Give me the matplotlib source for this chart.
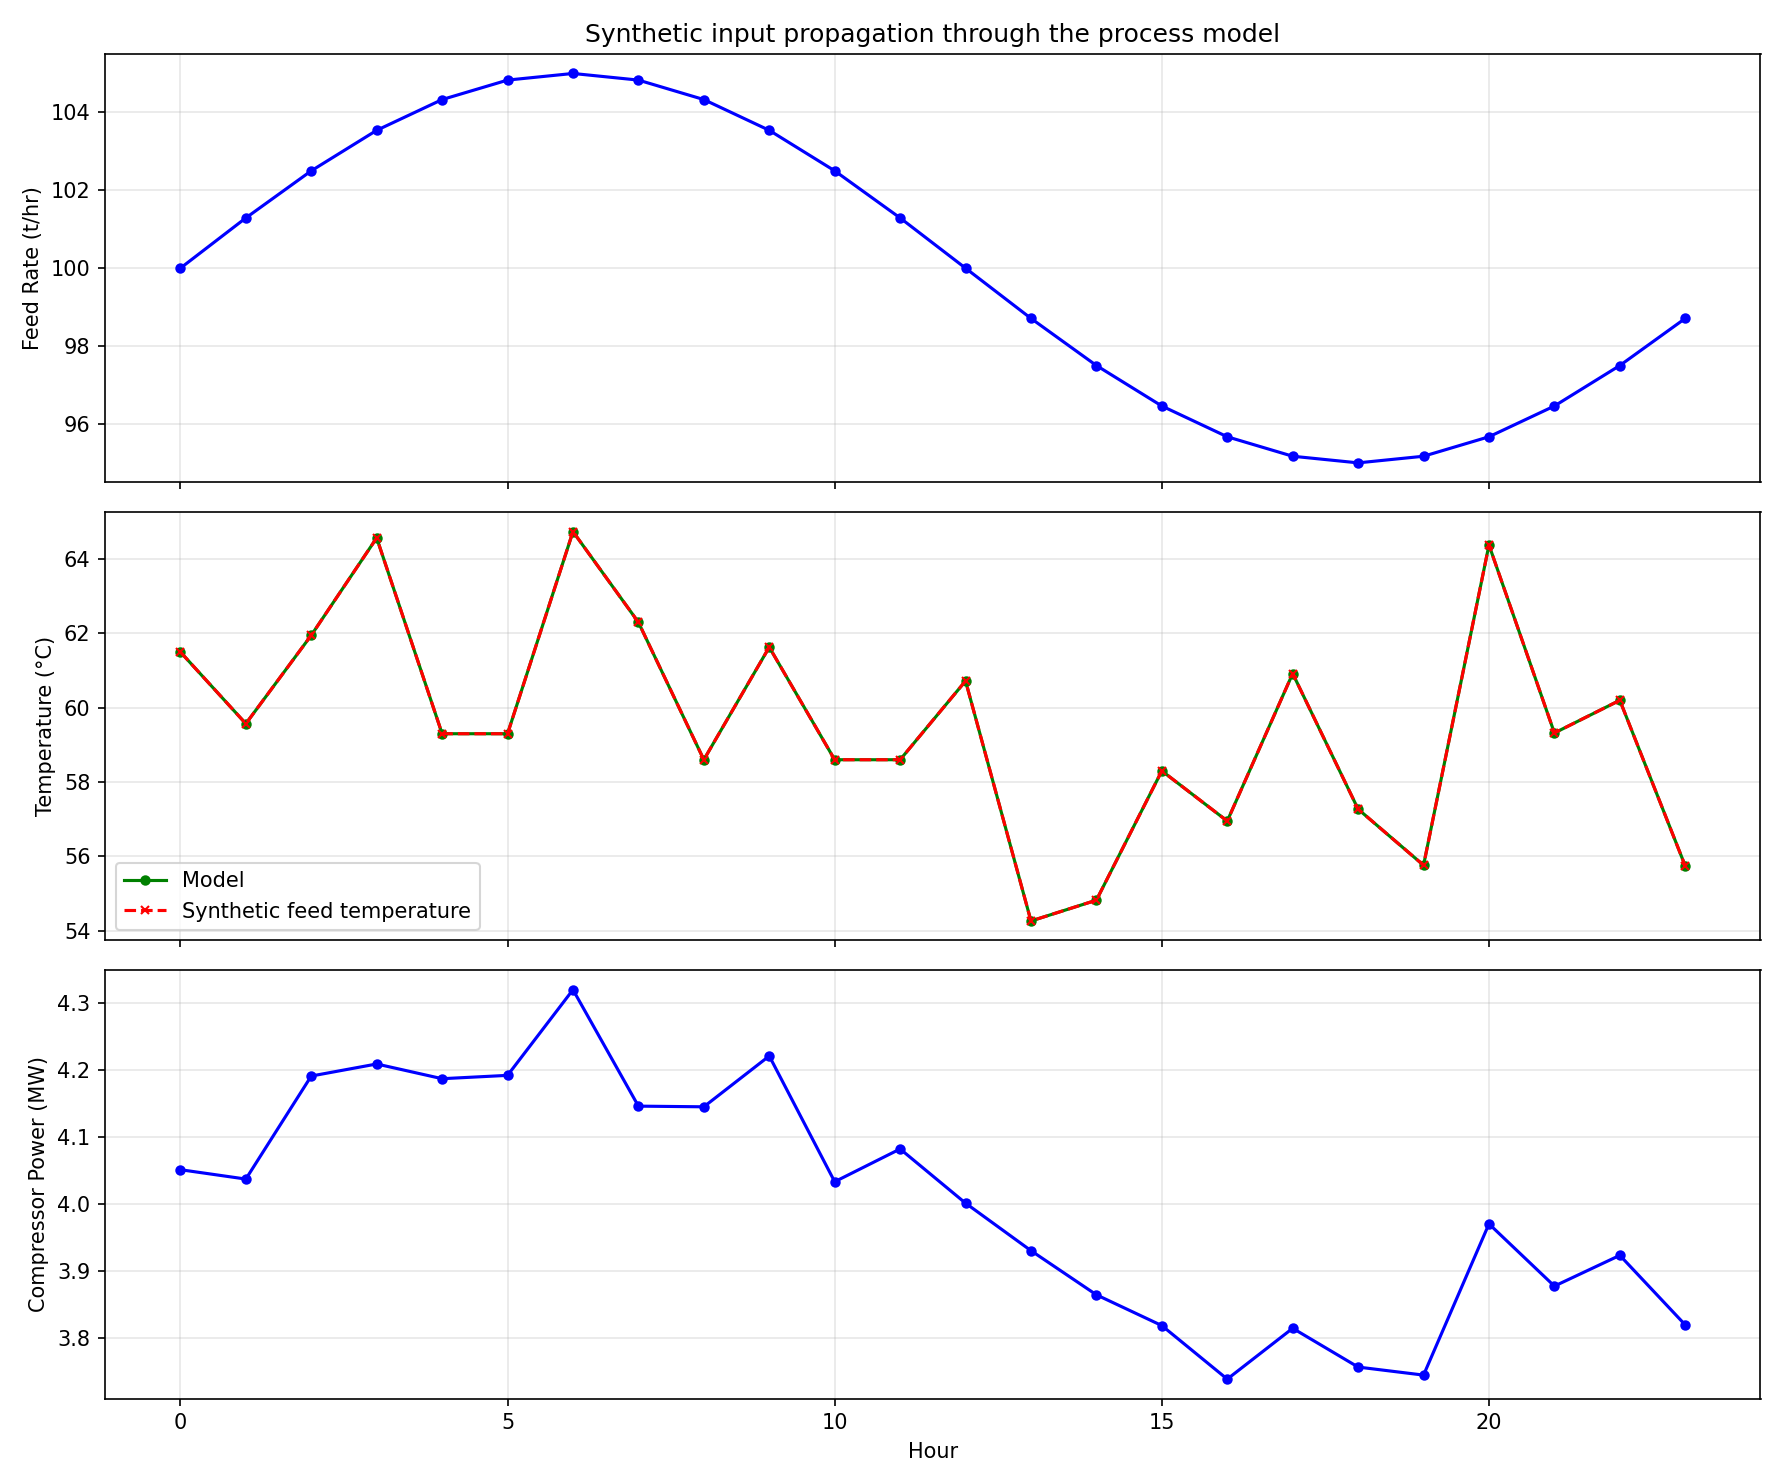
import matplotlib
matplotlib.use("Agg")
import matplotlib.pyplot as plt

hours = list(range(24))
feed_rate = [100, 101.29, 102.5, 103.54, 104.33, 104.83, 105, 104.83, 104.33, 103.54, 102.5, 101.29,
             100, 98.71, 97.5, 96.46, 95.67, 95.17, 95, 95.17, 95.67, 96.46, 97.5, 98.71]
temperature = [61.5, 59.57, 61.95, 64.57, 59.3, 59.3, 64.74, 62.3, 58.6, 61.63, 58.6, 58.6,
               60.72, 54.26, 54.82, 58.3, 56.95, 60.92, 57.27, 55.76, 64.38, 59.32, 60.2, 55.74]
power = [4.051, 4.037, 4.191, 4.209, 4.187, 4.192, 4.320, 4.146, 4.145, 4.221, 4.033, 4.082,
         4.001, 3.930, 3.864, 3.818, 3.738, 3.814, 3.756, 3.744, 3.970, 3.877, 3.923, 3.819]

fig, axes = plt.subplots(3, 1, figsize=(1783/150, 1484/150), dpi=150, sharex=True)
ax1, ax2, ax3 = axes
ax1.plot(hours, feed_rate, 'b-o', markersize=4)
ax1.set_ylabel('Feed Rate (t/hr)')
ax1.set_title('Synthetic input propagation through the process model')
ax2.plot(hours, temperature, 'g-o', markersize=4, label='Model')
ax2.plot(hours, temperature, 'r--x', markersize=4, label='Synthetic feed temperature')
ax2.set_ylabel('Temperature (°C)')
ax2.legend(loc='lower left')
ax3.plot(hours, power, 'b-o', markersize=4)
ax3.set_ylabel('Compressor Power (MW)')
ax3.set_xlabel('Hour')
for ax in axes:
    ax.grid(True, alpha=0.3)
fig.tight_layout()
fig.savefig('out.png', dpi=150)
